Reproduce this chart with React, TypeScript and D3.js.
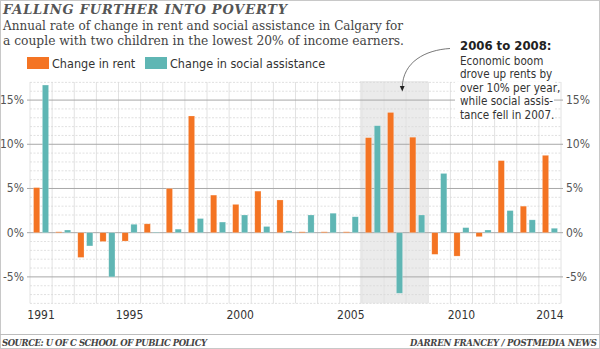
import React from "react";
import * as d3 from "d3";

const years = d3.range(1991, 2015).map(String);
const rentChange = [5.1, 0.1, -2.8, -1.0, -0.95, 1.0, 5.0, 13.2, 4.25, 3.2, 4.7, 3.7, 0.1, 0.1, 0.1, 10.75, 13.6, 10.8, -2.45, -2.65, -0.45, 8.15, 3.0, 8.75];
const assistChange = [16.7, 0.3, -1.5, -5.0, 0.95, 0.05, 0.4, 1.6, 1.2, 2.0, 0.7, 0.2, 2.0, 2.2, 1.8, 12.1, -6.85, 2.0, 6.7, 0.57, 0.3, 2.5, 1.45, 0.5];
const seriesNames = ["Change in rent", "Change in social assistance"];
const seriesColors = ["#f47423", "#5fb6b4"];
const yTicks = [-5, 0, 5, 10, 15];
const xTickLabels = ["1991", "1995", "2000", "2005", "2010", "2014"];
const shadedYears = ["2006", "2008"];
const titleText = "FALLING FURTHER INTO POVERTY";
const subtitleLines = [
  "Annual rate of change in rent and social assistance in Calgary for",
  "a couple with two children in the lowest 20% of income earners.",
];
const noteTitle = "2006 to 2008:";
const noteLines = ["Economic boom", "drove up rents by", "over 10% per year,", "while social assis-", "tance fell in 2007."];
const sourceText = "SOURCE: U OF C SCHOOL OF PUBLIC POLICY";
const creditText = "DARREN FRANCEY / POSTMEDIA NEWS";

const W = 600;
const H = 349;
const sans = "'Liberation Sans Narrow', 'DejaVu Sans Condensed', 'Roboto', sans-serif";
const serif = "'DejaVu Serif', 'Liberation Serif', serif";

export default function App() {
  const x = d3.scaleBand<string>().domain(years).range([30, 561]).paddingInner(0).paddingOuter(0);
  const sub = d3.scaleBand<number>().domain([0, 1]).range([0, x.bandwidth()]).paddingInner(0.3).paddingOuter(0.4);
  const y = d3.scaleLinear().domain([-8, 17]).range([303.4, 82.4]);
  const bw = x.bandwidth();
  const minorTicks = d3.range(-8, 18).filter((v) => v % 5 !== 0);
  const series = [rentChange, assistChange];
  const shadeX0 = (x(shadedYears[0]) as number) - 2;
  const shadeX1 = (x(shadedYears[1]) as number) + bw;

  return (
    <svg width={W} height={H} style={{ position: "absolute", left: 0, top: 0, background: "#fff" }}>
      <rect x={0.5} y={0.5} width={W - 1} height={H - 1} fill="#fff" stroke="#c8c8c8" />
      {/* title */}
      <text x={3} y={14} fontFamily={serif} fontStyle="italic" fontWeight="bold" fontSize={13} fill="#555" textLength={284} lengthAdjust="spacing">
        {titleText}
      </text>
      {subtitleLines.map((t, i) => (
        <text key={i} x={3} y={30 + i * 15} fontFamily={serif} fontSize={12} fill="#444" textLength={i === 0 ? 400 : 401} lengthAdjust="spacingAndGlyphs">
          {t}
        </text>
      ))}
      {/* legend */}
      {seriesNames.map((n, i) => (
        <g key={n} transform={`translate(${i === 0 ? 27 : 145},57)`}>
          <rect width={22} height={12} fill={seriesColors[i]} />
          <text x={25} y={10.5} fontFamily={sans} fontSize={12.5} fill="#333">{n}</text>
        </g>
      ))}
      {/* shaded */}
      <rect x={shadeX0} y={81} width={shadeX1 - shadeX0} height={303.4 - 81} fill="#ebebeb" />
      {/* vertical grid */}
      {d3.range(0, years.length + 1).map((i) => {
        const xx = 30 + i * bw;
        return <line key={"v" + i} x1={xx} x2={xx} y1={82} y2={303.4} stroke="#e2e2e2" strokeWidth={1} />;
      })}
      {/* minor grid */}
      {minorTicks.map((v) => (
        <line key={"m" + v} x1={30} x2={561} y1={y(v)} y2={y(v)} stroke="#d9d9d9" strokeDasharray="2,1.5" strokeWidth={0.8} />
      ))}
      {/* major grid */}
      {yTicks.map((v) => (
        <line key={"g" + v} x1={27} x2={563} y1={y(v)} y2={y(v)} stroke="#a8a8a8" strokeWidth={1} />
      ))}
      {/* bars */}
      {series.map((vals, si) =>
        vals.map((v, i) => {
          const x0 = (x(years[i]) as number) + (sub(si) as number);
          const y0 = Math.min(y(v), y(0));
          const h = Math.abs(y(v) - y(0));
          return <rect key={si + "-" + i} x={x0} y={y0} width={sub.bandwidth()} height={h} fill={seriesColors[si]} stroke="#fff" strokeOpacity={0.35} strokeWidth={0.6} />;
        })
      )}
      {/* y labels */}
      {yTicks.map((v) => (
        <g key={"yl" + v}>
          <text x={24} y={y(v) + 4} textAnchor="end" fontFamily={sans} fontSize={12} fill="#555">{v + "%"}</text>
          <text x={566} y={y(v) + 4} textAnchor="start" fontFamily={sans} fontSize={12} fill="#555">{v + "%"}</text>
        </g>
      ))}
      {/* x labels */}
      {xTickLabels.map((t) => (
        <text key={t} x={(x(t) as number) + bw / 2} y={319} textAnchor="middle" fontFamily={sans} fontSize={12} fill="#333">{t}</text>
      ))}
      {/* annotation */}
      <rect x={455} y={82} width={99} height={36} fill="#fff" />
      <text x={460} y={50} fontFamily={sans} fontWeight="bold" fontSize={13} fill="#222">{noteTitle}</text>
      {noteLines.map((t, i) => (
        <text key={t} x={460} y={64.5 + i * 13.5} fontFamily={sans} fontSize={11.6} fill="#333">{t}</text>
      ))}
      <path d="M450,48.5 C425,50 403,62 402.3,87" fill="none" stroke="#555" strokeWidth={0.8} />
      <path d="M399.8,86 L404.6,86 L402.3,91.5 Z" fill="#222" />
      {/* footer */}
      <line x1={0} x2={W} y1={334.5} y2={334.5} stroke="#bdbdbd" />
      <text x={2} y={346} fontFamily={serif} fontStyle="italic" fontWeight="bold" fontSize={8.5} fill="#444" textLength={205} lengthAdjust="spacing">{sourceText}</text>
      <text x={410} y={346} fontFamily={serif} fontStyle="italic" fontWeight="bold" fontSize={8.5} fill="#444" textLength={187} lengthAdjust="spacing">{creditText}</text>
    </svg>
  );
}
